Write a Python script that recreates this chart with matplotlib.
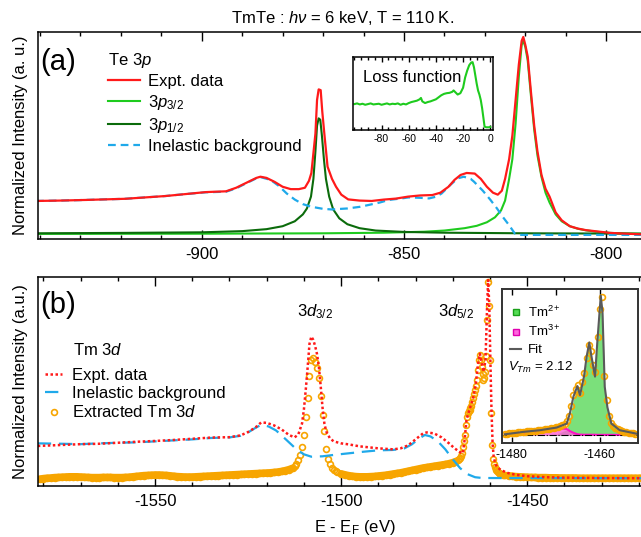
import numpy as np
import matplotlib
matplotlib.use("Agg")
import matplotlib.pyplot as plt
from matplotlib.ticker import MultipleLocator, FixedLocator
from matplotlib.lines import Line2D

plt.rcParams['font.family'] = ['Liberation Sans', 'DejaVu Sans']
plt.rcParams['mathtext.fontset'] = 'custom'
plt.rcParams['mathtext.rm'] = 'Liberation Sans'
plt.rcParams['mathtext.it'] = 'Liberation Sans:italic'
plt.rcParams['font.size'] = 12
plt.rcParams['axes.unicode_minus'] = False

# ---------------- panel (a): Te 3p ----------------
a_red_x = [-941, -935, -929, -924, -919, -914, -909, -904, -899, -894, -891.5, -889, -886.5, -885.5,
           -884, -882, -880, -878, -876, -874.5, -873.5, -872.9, -872.4, -871.9, -871.5, -871.1,
           -870.6, -870.2, -869.7, -868.9, -867.8, -866.8, -865.5, -863.8, -861, -858, -855, -852,
           -849, -846, -843, -841, -839, -837.5, -836, -834.5, -832.5, -831, -829.5, -828, -826.8,
           -825.8, -825, -824, -823.2, -822.4, -821.6, -820.9, -820.5, -820, -819.4, -818.6, -817.8,
           -817, -816, -815, -814, -812.5, -811, -809, -807, -805, -802, -799, -795, -789]
a_red_y = [0.168, 0.170, 0.173, 0.176, 0.179, 0.186, 0.193, 0.203, 0.213, 0.217, 0.235, 0.260, 0.285, 0.291,
           0.285, 0.265, 0.240, 0.228, 0.228, 0.235, 0.270, 0.310, 0.410, 0.510, 0.680, 0.734,
           0.730, 0.620, 0.510, 0.342, 0.280, 0.240, 0.200, 0.176, 0.170, 0.168, 0.175, 0.180,
           0.190, 0.196, 0.198, 0.210, 0.240, 0.275, 0.300, 0.310, 0.307, 0.280, 0.240, 0.210, 0.200,
           0.220, 0.280, 0.380, 0.500, 0.680, 0.860, 0.980, 1.000, 0.960, 0.900, 0.720, 0.550,
           0.420, 0.300, 0.230, 0.190, 0.110, 0.070, 0.040, 0.028, 0.020, 0.013, 0.006, 0.002, -0.003]

a_bg_x = [-941, -935, -929, -924, -919, -914, -909, -904, -899, -894, -891.5, -889, -886.5, -885.5,
          -883, -881, -879, -877, -875, -873, -870, -867.9, -864, -861, -858.9, -856, -853.8, -851,
          -848.8, -846, -843.8, -842, -840.7, -838.5, -836.7, -835.2, -833.5, -832.7, -830.5, -828.6,
          -827, -825.6, -824, -822.6, -821, -789]
a_bg_y = [0.168, 0.170, 0.173, 0.176, 0.179, 0.186, 0.193, 0.203, 0.212, 0.215, 0.232, 0.258, 0.283, 0.289,
          0.275, 0.245, 0.206, 0.175, 0.152, 0.139, 0.128, 0.125, 0.130, 0.138, 0.147, 0.160, 0.173, 0.180,
          0.186, 0.184, 0.181, 0.190, 0.206, 0.250, 0.283, 0.291, 0.280, 0.266, 0.220, 0.173,
          0.130, 0.088, 0.045, 0.003, -0.004, -0.004]

a_p12_x = [-941, -920, -900, -890, -884, -880, -877, -875, -874, -873, -872.4, -871.9, -871.5, -871.1,
           -870.7, -870.3, -869.8, -869.3, -868.5, -867.5, -866, -864, -861, -857, -850, -840, -820, -789]
a_p12_y = [0.004, 0.006, 0.009, 0.015, 0.025, 0.040, 0.065, 0.100, 0.130, 0.190, 0.280, 0.420, 0.550, 0.587,
           0.580, 0.500, 0.380, 0.280, 0.190, 0.125, 0.080, 0.050, 0.030, 0.018, 0.011, 0.007, 0.004, 0.002]

a_p32_x = [-941, -900, -870, -855, -845, -840, -835, -832, -829.5, -827.5, -826, -825, -824, -823.2,
           -822.4, -821.6, -820.9, -820.5, -820, -819.4, -818.6, -817.8, -817, -816, -815, -814, -812.5,
           -811, -809, -807, -805, -802, -799, -795, -789]
a_p32_y = [0.001, 0.002, 0.004, 0.007, 0.012, 0.018, 0.030, 0.042, 0.060, 0.085, 0.120, 0.170, 0.280, 0.380,
           0.560, 0.800, 0.960, 0.980, 0.950, 0.880, 0.700, 0.530, 0.400, 0.290, 0.210, 0.160, 0.100,
           0.065, 0.040, 0.027, 0.019, 0.011, 0.006, 0.003, 0.001]

# loss function inset
loss_x = [-100, -98, -96, -94, -92, -90, -88, -86, -84, -82, -80, -78, -76, -74, -72, -70, -68, -66, -64,
          -62, -60, -58, -56, -54, -52, -51, -50, -48, -46, -44, -42, -40, -38, -36, -34, -32, -30, -28,
          -27, -25.5, -24, -22, -20, -18.5, -17, -15.5, -14, -13, -12, -11, -10, -9, -8, -7, -6, -5,
          -4.2, -3, -1, 0]
loss_y = [0.36, 0.37, 0.355, 0.365, 0.35, 0.36, 0.37, 0.355, 0.36, 0.365, 0.35, 0.36, 0.37, 0.355, 0.365,
          0.36, 0.37, 0.35, 0.365, 0.355, 0.375, 0.39, 0.40, 0.41, 0.43, 0.45, 0.40, 0.375, 0.39, 0.40,
          0.415, 0.43, 0.46, 0.49, 0.51, 0.52, 0.525, 0.54, 0.56, 0.53, 0.50, 0.52, 0.60, 0.75, 0.85,
          0.93, 0.97, 0.975, 0.90, 0.78, 0.66, 0.56, 0.50, 0.42, 0.30, 0.15, 0.03, 0.02, 0.02, 0.025]
loss_ticks = [-80, -60, -40, -20, 0]

# ---------------- panel (b): Tm 3d ----------------
b_red_x = [-1581.5, -1575, -1570, -1565, -1560, -1555, -1550, -1545, -1540, -1535, -1530, -1527, -1525,
           -1523, -1521.5, -1520, -1518, -1516, -1514, -1512.5, -1511.5, -1510.5, -1510, -1509.5, -1509,
           -1508.5, -1508, -1507.5, -1507, -1506.5, -1506, -1505.5, -1505, -1504.5, -1504, -1503, -1502,
           -1500, -1498, -1495, -1490, -1486, -1484, -1482, -1480, -1478, -1477, -1475, -1473, -1471,
           -1469.5, -1468, -1467.3, -1466.8, -1466.3, -1465.5, -1464.5, -1463.8, -1463.2, -1462.7,
           -1462.2, -1461.7, -1461.2, -1460.8, -1460.5, -1460.2, -1459.9, -1459.6, -1459.3, -1459,
           -1458.5, -1458, -1457, -1455, -1453, -1450, -1445, -1440, -1430, -1417]
b_red_y = [0.167, 0.172, 0.176, 0.178, 0.183, 0.188, 0.192, 0.197, 0.203, 0.209, 0.211, 0.220, 0.237,
           0.260, 0.285, 0.283, 0.270, 0.250, 0.222, 0.210, 0.225, 0.280, 0.350, 0.450, 0.560,
           0.680, 0.716, 0.700, 0.670, 0.630, 0.570, 0.470, 0.360, 0.280, 0.240, 0.205, 0.190,
           0.180, 0.175, 0.165, 0.155, 0.150, 0.155, 0.170, 0.200, 0.230, 0.235, 0.230, 0.210, 0.180,
           0.155, 0.135, 0.130, 0.200, 0.300, 0.350, 0.410, 0.480, 0.580, 0.630,
           0.580, 0.540, 0.600, 0.850, 1.000, 0.880, 0.600, 0.350, 0.180, 0.110,
           0.075, 0.060, 0.045, 0.030, 0.022, 0.015, 0.010, 0.008, 0.006, 0.005]

b_bg_x = [-1581.5, -1575, -1570, -1565, -1560, -1555, -1550, -1545, -1540, -1535, -1530, -1527, -1525,
          -1523, -1521.5, -1519.5, -1517.5, -1516, -1514, -1512, -1510, -1508, -1505, -1502, -1498,
          -1494, -1490, -1486, -1483, -1481, -1479, -1477.5, -1476, -1474, -1472, -1470, -1468, -1466,
          -1464, -1462, -1417]
b_bg_y = [0.180, 0.178, 0.176, 0.180, 0.183, 0.185, 0.190, 0.195, 0.200, 0.207, 0.210, 0.218, 0.235,
          0.258, 0.273, 0.265, 0.245, 0.220, 0.185, 0.150, 0.125, 0.113, 0.115, 0.122, 0.130,
          0.138, 0.145, 0.147, 0.155, 0.175, 0.205, 0.222, 0.215, 0.190, 0.150, 0.100, 0.055, 0.025,
          0.010, 0.006, 0.005]

# extracted Tm 3d (open circles), sampled on a grid of energies
seg_a = np.arange(-1581, -1512.5, 1.0)
seg_b = np.arange(-1512.5, -1500.9, 0.5)
seg_c = np.arange(-1500, -1468.9, 1.0)
seg_d = np.linspace(-1468.5, -1456, 51)
seg_e = np.arange(-1455, -1417.9, 1.0)
b_tm_x = np.concatenate([seg_a, seg_b, seg_c, seg_d, seg_e])
b_tm_y = np.array([
    # -1581 .. -1513
    0.0, 0.003, 0.005, 0.006, 0.008, 0.009, 0.010, 0.011, 0.012, 0.012, 0.012, 0.011, 0.010, 0.009,
    0.008, 0.008, 0.008, 0.009, 0.009, 0.009, 0.008, 0.008, 0.008, 0.009, 0.010, 0.012, 0.014, 0.016,
    0.018, 0.019, 0.020, 0.021, 0.021, 0.020, 0.019, 0.017, 0.015, 0.013, 0.012, 0.011, 0.011, 0.011,
    0.012, 0.013, 0.014, 0.015, 0.016, 0.017, 0.018, 0.019, 0.020, 0.021, 0.022, 0.023, 0.024, 0.025,
    0.026, 0.027, 0.028, 0.029, 0.030, 0.031, 0.032, 0.034, 0.036, 0.039, 0.043, 0.048, 0.055,
    # -1512.5 .. -1501
    0.065, 0.078, 0.095, 0.120, 0.160, 0.220, 0.310, 0.410, 0.520, 0.600, 0.610, 0.590, 0.560, 0.510,
    0.420, 0.320, 0.240, 0.150, 0.100, 0.075, 0.058, 0.047, 0.040, 0.034,
    # -1500 .. -1469
    0.027, 0.022, 0.018, 0.015, 0.013, 0.012, 0.012, 0.012, 0.013, 0.014, 0.016, 0.018, 0.020, 0.023,
    0.026, 0.029, 0.032, 0.036, 0.040, 0.044, 0.048, 0.052, 0.056, 0.059, 0.062, 0.065, 0.068, 0.071,
    0.074, 0.078, 0.083, 0.090,
    # -1468.5 .. -1456 (0.25 steps)
    0.095, 0.100, 0.105, 0.115, 0.130, 0.160, 0.190, 0.220, 0.270, 0.310, 0.330, 0.340, 0.350, 0.360,
    0.370, 0.390, 0.410, 0.430, 0.450, 0.470, 0.500, 0.550, 0.600, 0.625, 0.600, 0.565, 0.530, 0.500,
    0.510, 0.540, 0.620, 0.800, 0.990, 0.870, 0.600, 0.330, 0.170, 0.100, 0.075, 0.060, 0.050, 0.044,
    0.039, 0.035, 0.031, 0.028, 0.026, 0.024, 0.022, 0.020, 0.019,
    # -1455 .. -1418
    0.017, 0.015, 0.013, 0.012, 0.011, 0.010, 0.009, 0.009, 0.008, 0.008, 0.008, 0.007, 0.007, 0.007,
    0.006, 0.006, 0.006, 0.006, 0.006, 0.005, 0.005, 0.005, 0.005, 0.005, 0.005, 0.005, 0.005, 0.005,
    0.005, 0.005, 0.005, 0.005, 0.005, 0.005, 0.005, 0.005, 0.005, 0.005])

# Tm 3d5/2 fit inset
fit_x = [-1481.5, -1477.4, -1473.6, -1469.8, -1467.5, -1466.8, -1466.0, -1465.1, -1464.5, -1463.6,
         -1463.0, -1462.4, -1461.9, -1461.1, -1460.6, -1459.8, -1459.4, -1458.9, -1458.3, -1457.4,
         -1455.5, -1451.8]
fit_y = [0.007, 0.024, 0.036, 0.055, 0.083, 0.155, 0.274, 0.350, 0.286, 0.417,
         0.560, 0.660, 0.560, 0.417, 0.655, 0.993, 0.870, 0.345, 0.200, 0.083,
         0.036, 0.012]
tm2_y = [0.0, 0.002, 0.005, 0.008, 0.040, 0.125, 0.255, 0.340, 0.280, 0.413,
         0.556, 0.656, 0.556, 0.413, 0.652, 0.990, 0.867, 0.342, 0.197, 0.080,
         0.033, 0.009]
tm3_y = [0.005, 0.015, 0.025, 0.050, 0.045, 0.030, 0.018, 0.008, 0.005, 0.004,
         0.004, 0.004, 0.004, 0.004, 0.003, 0.003, 0.003, 0.003, 0.003, 0.003,
         0.003, 0.003]
ins_x = np.arange(-1481.5, -1451.9, 0.5)
ins_y = [0.010, 0.012, 0.014, 0.015, 0.017, 0.018, 0.020, 0.022, 0.024, 0.026, 0.027, 0.029, 0.030,
         0.032, 0.033, 0.035, 0.037, 0.040, 0.042, 0.045, 0.047, 0.050, 0.053, 0.057, 0.060, 0.065,
         0.072, 0.080, 0.100, 0.140, 0.210, 0.290, 0.330, 0.360, 0.300, 0.380, 0.440, 0.550, 0.640,
         0.600, 0.500, 0.450, 0.700, 0.900, 0.980, 0.420, 0.250, 0.140, 0.090, 0.065, 0.050, 0.042,
         0.036, 0.030, 0.026, 0.022, 0.019, 0.016, 0.014, 0.012]

RED = '#ff1a1a'
LGREEN = '#1ecb1e'
DGREEN = '#0b6b0b'
BLUE = '#1fa9ea'
ORANGE = '#f7a500'


def style_x(ax, major, minor, big=6.5, small=3.0, size=12, pad=6):
    ax.xaxis.set_major_locator(MultipleLocator(major))
    ax.xaxis.set_minor_locator(MultipleLocator(minor))
    ax.tick_params(axis='x', which='both', direction='in', top=True, bottom=True,
                   width=1, labelsize=size, pad=pad)
    ax.tick_params(axis='x', which='major', length=big)
    ax.tick_params(axis='x', which='minor', length=small)
    ax.tick_params(axis='y', which='both', left=False, right=False, labelleft=False)
    for s in ax.spines.values():
        s.set_linewidth(1.1)


fig = plt.figure(figsize=(6.41, 5.37), dpi=100)

# ---- (a)
ax1 = fig.add_axes([0.0593, 0.5549, 0.9501, 0.3855])
l_p32, = ax1.plot(a_p32_x, a_p32_y, color=LGREEN, lw=1.5)
l_p12, = ax1.plot(a_p12_x, a_p12_y, color=DGREEN, lw=1.5)
l_bga, = ax1.plot(a_bg_x, a_bg_y, color=BLUE, lw=1.6, dashes=(3.5, 2.2))
l_reda, = ax1.plot(a_red_x, a_red_y, color=RED, lw=1.6)
ax1.set_xlim(-940.5, -789.9)
ax1.set_ylim(-0.025, 1.025)
style_x(ax1, 50, 10)
ax1.set_ylabel('Normalized Intensity (a. u.)', fontsize=12)
ax1.yaxis.set_label_coords(-0.017, 0.5)
ax1.text(0.003, 0.855, '(a)', transform=ax1.transAxes, fontsize=21, va='center', ha='left')
ax1.legend([l_reda, l_p32, l_p12, l_bga],
           ['Expt. data', '3$p_{3/2}$', '3$p_{1/2}$', 'Inelastic background'],
           title='Te 3$p$', title_fontsize=12, fontsize=12, alignment='left',
           loc='upper left', bbox_to_anchor=(0.115, 0.91), frameon=False,
           borderpad=0, borderaxespad=0, handlelength=1.9, handletextpad=0.5,
           labelspacing=0.25)

ins1 = fig.add_axes([0.5507, 0.7579, 0.2184, 0.1359])
ins1.plot(loss_x, loss_y, color=LGREEN, lw=1.5)
ins1.set_xlim(-101, 2)
ins1.set_ylim(-0.02, 1.05)
style_x(ins1, 20, 5, big=3.5, small=2.0, size=7.5, pad=3)
ins1.xaxis.set_major_locator(FixedLocator(loss_ticks))
ins1.text(0.07, 0.72, 'Loss function', transform=ins1.transAxes, fontsize=12, va='center')

# ---- (b)
ax2 = fig.add_axes([0.0593, 0.0950, 0.9501, 0.3898])
# the flat stretches of the extracted spectrum are so densely sampled that they read as a band
na, nb, nc, nd = len(seg_a), len(seg_b), len(seg_c), len(seg_d)
flat = [slice(0, na), slice(na + nb, na + nb + nc), slice(na + nb + nc + nd, None)]
for sl in flat:
    ax2.plot(b_tm_x[sl], b_tm_y[sl], color=ORANGE, lw=5.5, solid_capstyle='round')
l_tm, = ax2.plot(b_tm_x, b_tm_y, ls='none', marker='o', ms=4.2, mfc='none', mec=ORANGE, mew=1.2)
l_bgb, = ax2.plot(b_bg_x, b_bg_y, color=BLUE, lw=1.6, dashes=(6, 3.5))
l_redb, = ax2.plot(b_red_x, b_red_y, color=RED, lw=1.8, ls=(0, (1, 1)))
ax2.set_xlim(-1581.45, -1417.8)
ax2.set_ylim(-0.034, 1.017)
style_x(ax2, 50, 10)
ax2.set_ylabel('Normalized Intensity (a.u.)', fontsize=12)
ax2.yaxis.set_label_coords(-0.017, 0.5)
ax2.set_xlabel('E - E$_\\mathrm{F}$ (eV)', fontsize=12)
ax2.xaxis.set_label_coords(0.52, -0.155)
ax2.text(0.003, 0.866, '(b)', transform=ax2.transAxes, fontsize=21, va='center', ha='left')
ax2.text(-1507.1, 0.82, '3$d_{3/2}$', fontsize=12, ha='center', va='baseline')
ax2.text(-1469.0, 0.82, '3$d_{5/2}$', fontsize=12, ha='center', va='baseline')
ax2.text(0.0575, 0.651, 'Tm 3$d$', transform=ax2.transAxes, fontsize=12, va='center')
ax2.legend([l_redb, l_bgb, l_tm], ['Expt. data', 'Inelastic background', 'Extracted Tm 3$d$'],
           fontsize=12, loc='upper left', bbox_to_anchor=(0.012, 0.565), frameon=False,
           borderpad=0, borderaxespad=0, handlelength=1.0, handletextpad=0.6,
           labelspacing=0.2, numpoints=1)

ins2 = fig.add_axes([0.7836, 0.1750, 0.2122, 0.2868])
ins2.fill_between(fit_x, 0, tm2_y, color='#7be07b', lw=0)
ins2.fill_between(fit_x, 0, tm3_y, color='#ff5fd8', alpha=0.8, lw=0)
ins2.plot(fit_x, tm3_y, color='#ff10c8', lw=1.5)
ins2.axhline(0, color='k', lw=0.8, ls='-.')
ins2.plot(ins_x, ins_y, ls='none', marker='o', ms=4.2, mfc='none', mec=ORANGE, mew=1.2)
ins2.plot(fit_x, fit_y, color='#5a5a5a', lw=1.5)
ins2.set_xlim(-1482.1, -1451.3)
ins2.set_ylim(-0.055, 1.04)
style_x(ins2, 10, 10, big=4, small=0, size=9, pad=4)
ins2.xaxis.set_major_locator(FixedLocator([-1480, -1470, -1460]))
ins2.set_xticklabels(['-1480', '', '-1460'])
for s in ins2.spines.values():
    s.set_linewidth(1.4)
    s.set_color('#333333')
h2 = [Line2D([], [], ls='none', marker='s', ms=5, mfc='#55dd55', mec='#1aa01a'),
      Line2D([], [], ls='none', marker='s', ms=5, mfc='#ff66dd', mec='#e000b0'),
      Line2D([], [], color='#5a5a5a', lw=1.5)]
ins2.legend(h2, ['Tm$^{2+}$', 'Tm$^{3+}$', 'Fit'], fontsize=9.5, loc='upper left',
            bbox_to_anchor=(0.06, 0.9), frameon=False, borderpad=0, borderaxespad=0,
            handlelength=0.8, handletextpad=0.5, labelspacing=0.35)
ins2.text(0.04, 0.49, '$V_{Tm}$ = 2.12', transform=ins2.transAxes, fontsize=9.5, va='center')

fig.text(0.535, 0.9665, 'TmTe : $h\\nu$ = 6 keV, T = 110 K.', fontsize=12, ha='center', va='center')

fig.savefig('out.png', dpi=100)
